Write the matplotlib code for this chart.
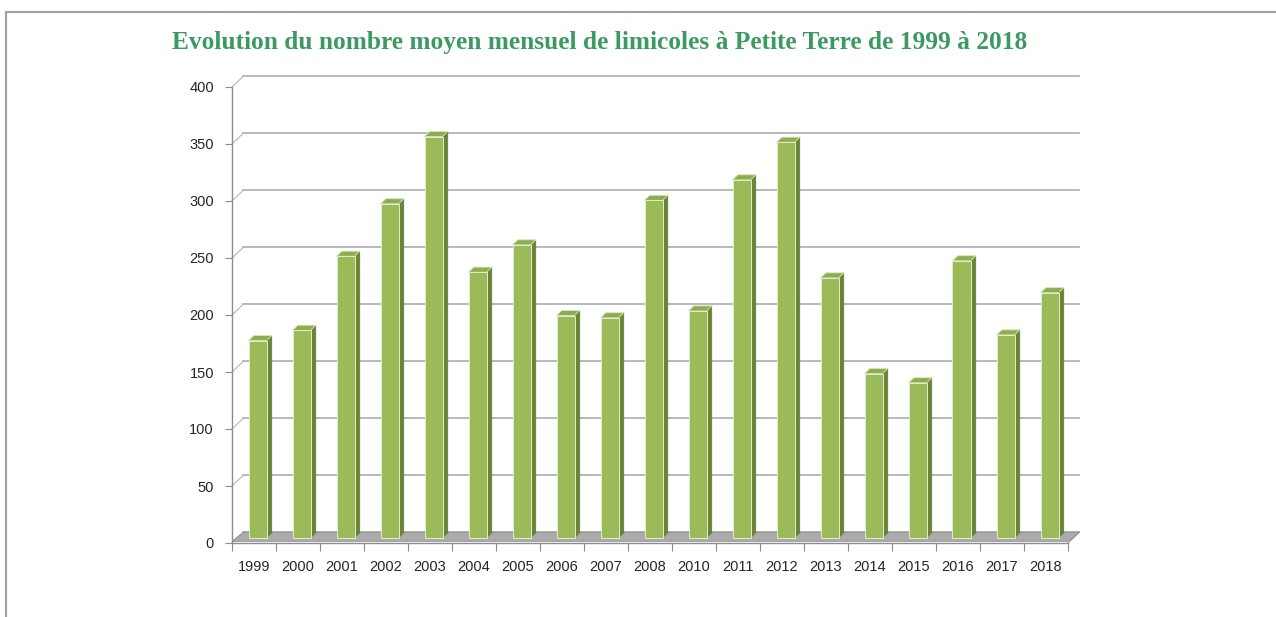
import matplotlib.pyplot as plt
from matplotlib.patches import Polygon
from matplotlib.lines import Line2D

years = ['1999', '2000', '2001', '2002', '2003', '2004', '2005', '2006', '2007', '2008',
         '2010', '2011', '2012', '2013', '2014', '2015', '2016', '2017', '2018']
moyenne = [173, 182, 247, 293, 352, 233, 257, 195, 193, 296,
           199, 314, 347, 228, 144, 136, 243, 178, 215]
yticks = [0, 50, 100, 150, 200, 250, 300, 350, 400]

title = "Evolution du nombre moyen mensuel de limicoles à Petite Terre de 1999 à 2018"

# 3D look: wall depth and bar depth (data units)
wall_dx, wall_dy = 0.26, 9.5
bar_w, bar_dx, bar_dy = 0.41, 0.12, 4.5
bar_shift_x, bar_shift_y = 0.08, 4.5

front = '#9bbb59'
side = '#6a8535'
top = '#8fad4f'

fig = plt.figure(figsize=(12.76, 6.17), dpi=100)
ax = fig.add_axes([232 / 1276, 74 / 617, 836 / 1276, 456 / 617])
ax.set_xlim(-0.5, len(years) - 0.5)
ax.set_ylim(0, 400)

# back wall gridlines + left wall diagonals
for t in yticks:
    ax.plot([-0.5 + wall_dx, len(years) - 0.5 + wall_dx], [t + wall_dy, t + wall_dy],
            color='#b3b3b3', lw=1.3, clip_on=False, zorder=1)
    ax.plot([-0.5, -0.5 + wall_dx], [t, t + wall_dy], color='#b5b5b5', lw=0.8,
            clip_on=False, zorder=1)

# floor
xe = len(years) - 0.5
floor = Polygon([(-0.5, 1.5), (xe, 1.5), (xe + wall_dx, wall_dy), (-0.5 + wall_dx, wall_dy)],
                closed=True, facecolor='#ababab', edgecolor='#8c8c8c', lw=0.6,
                clip_on=False, zorder=2)
ax.add_patch(floor)
ax.plot([xe, xe + wall_dx], [0, wall_dy], color='#9a9a9a', lw=0.9, clip_on=False, zorder=2)

# bars
for i, v in enumerate(moyenne):
    x0 = i - bar_w / 2 + bar_shift_x
    x1 = x0 + bar_w
    y0 = bar_shift_y
    y1 = v + bar_shift_y
    ax.add_patch(Polygon([(x1, y0), (x1 + bar_dx, y0 + bar_dy), (x1 + bar_dx, y1 + bar_dy), (x1, y1)],
                         closed=True, facecolor=side, edgecolor='#5d762e', lw=0.4,
                         clip_on=False, zorder=3))
    ax.add_patch(Polygon([(x0, y1), (x1, y1), (x1 + bar_dx, y1 + bar_dy), (x0 + bar_dx, y1 + bar_dy)],
                         closed=True, facecolor=top, edgecolor='#d8e6bc', lw=0.6,
                         clip_on=False, zorder=3))
    ax.bar(i + bar_shift_x, v, width=bar_w, bottom=y0, color=front,
           edgecolor='#e2ecd0', linewidth=0.7, zorder=4, clip_on=False)

# axes styling
for s in ['top', 'right']:
    ax.spines[s].set_visible(False)
for s in ['left', 'bottom']:
    ax.spines[s].set_color('#8c8c8c')
    ax.spines[s].set_linewidth(1.0)
ax.set_yticks(yticks)
ax.set_yticklabels([str(t) for t in yticks])
ax.set_xticks([i + 0.5 for i in range(-1, len(years))], minor=False)
ax.set_xticklabels([''] * (len(years) + 1))
ax.set_xticks(range(len(years)), minor=True)
ax.set_xticklabels(years, minor=True)
ax.tick_params(axis='x', which='major', length=6, color='#8c8c8c', direction='out')
ax.tick_params(axis='x', which='minor', length=0, pad=12, labelsize=10.5, labelcolor='#262626')
ax.tick_params(axis='y', length=5, color='#8c8c8c', pad=8, labelsize=10.5, labelcolor='#262626')
for lab in ax.get_xticklabels(minor=True) + ax.get_yticklabels():
    lab.set_fontfamily('Liberation Sans')
ax.patch.set_alpha(0)

# title
fig.text(600 / 1276, 1 - 42 / 617, title, ha='center', va='center', fontsize=18.3,
         fontweight='bold', color='#3a9a62', family='Liberation Serif')

# page border
fig.add_artist(Line2D([6 / 1276, 1], [1 - 12 / 617, 1 - 12 / 617], color='#a0a0a0', lw=1.5))
fig.add_artist(Line2D([6 / 1276, 6 / 1276], [0, 1 - 12 / 617], color='#a0a0a0', lw=1.5))

fig.savefig('out.png', dpi=100, facecolor='white')
